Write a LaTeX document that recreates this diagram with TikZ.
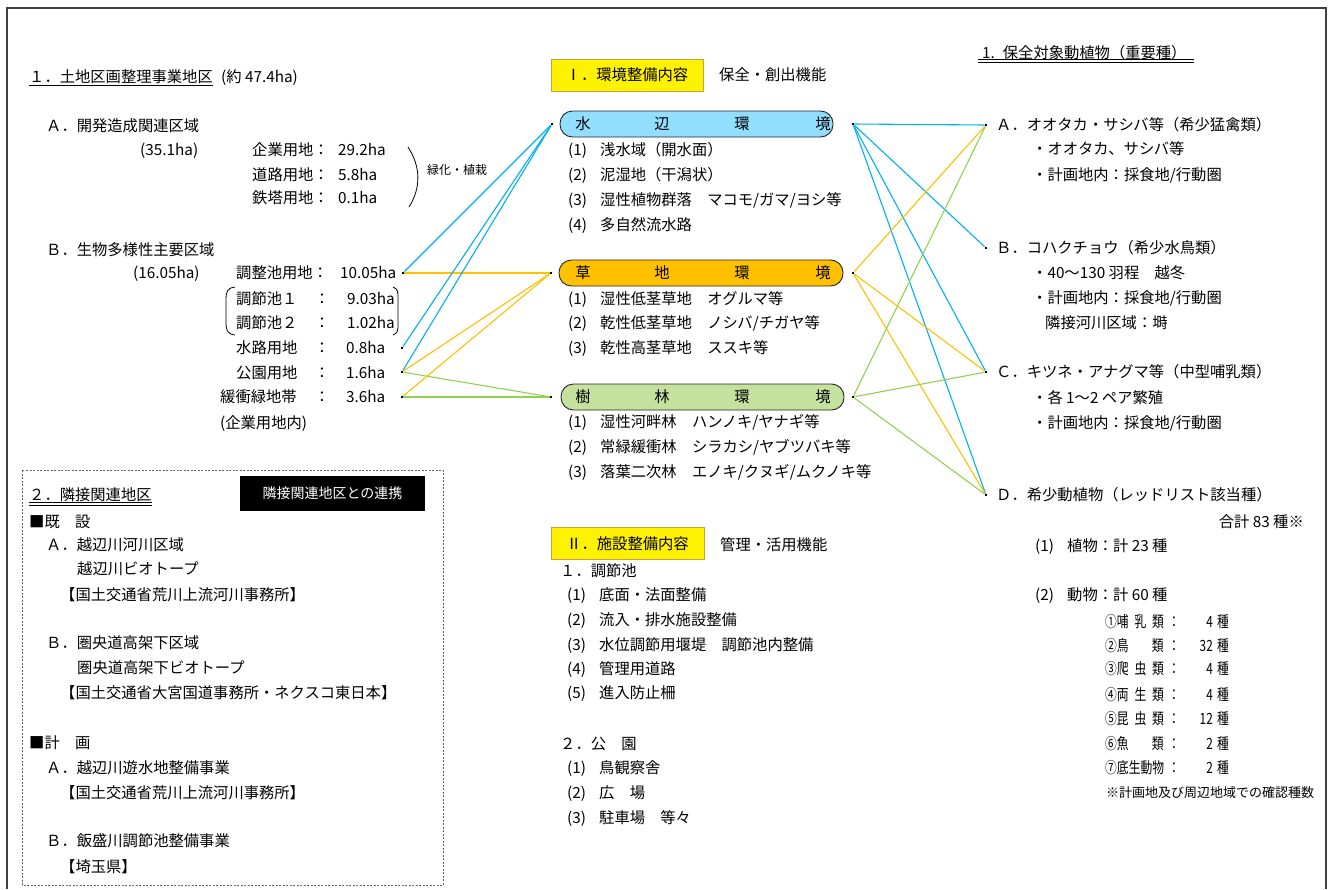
\documentclass[tikz,border=0pt]{standalone}
\usepackage{fontspec}
\setmainfont{Noto Sans CJK JP}
\newfontfamily\condfont[FakeStretch=0.76]{Noto Sans CJK JP}
\newcommand\myfs{\fontsize{15.3}{18}\selectfont}
\newcommand\mysm{\fontsize{12}{14}\selectfont}
\newcommand\mymid{\fontsize{14}{16}\selectfont}
\newcommand\mycond{\condfont\fontsize{15.5}{18}\selectfont}
\newcommand\np[1]{\makebox[32pt][l]{#1}}
\definecolor{cblue}{RGB}{0,176,240}
\definecolor{corange}{RGB}{255,192,0}
\definecolor{cgreen}{RGB}{146,208,80}
\definecolor{wfill}{RGB}{146,222,255}
\definecolor{gfill}{RGB}{255,192,0}
\definecolor{ffill}{RGB}{196,226,158}
\definecolor{ybord}{RGB}{200,160,60}
\begin{document}
\begin{tikzpicture}[x=1pt,y=-1pt,
  tx/.style={anchor=west,inner sep=0pt,text height=12.5pt,text depth=1.5pt,font=\myfs},
  txc/.style={anchor=center,inner sep=0pt,text height=12.5pt,text depth=1.5pt,font=\myfs},
  sm/.style={anchor=west,inner sep=0pt,font=\mysm},
  cd/.style={anchor=west,inner sep=0pt,text height=12.5pt,text depth=1.5pt,font=\mycond},
  dotn/.style={rectangle,fill=black,inner sep=0pt,minimum size=2.4pt},
  blu/.style={draw=cblue,line width=1.1pt},
  org/.style={draw=corange,line width=1.1pt},
  grn/.style={draw=cgreen,line width=1.1pt},
  ybox/.style={draw=ybord,fill=yellow,line width=0.9pt,minimum width=152pt,minimum height=32pt,inner sep=0pt,font=\myfs,text height=12.5pt,text depth=1.5pt},
  envbox/.style={draw=black!85,line width=0.9pt,rounded corners=12.5pt,minimum height=26pt,inner sep=0pt},
  ch/.style={anchor=center,inner sep=0pt,font=\myfs,text height=12.5pt,text depth=1.5pt}
]
\useasboundingbox (0,0) rectangle (1332,889);
% outer frame
\draw[line width=1.8pt,black!75] (7,889) -- (7,8) -- (1326,8) -- (1326,889);

% ===== Left column =====
\node[tx] (h1) at (29,77) {１．土地区画整理事業地区};
\node[tx] (h1b) at (221,77) {(約 47.4ha)};
\draw[line width=1.3pt] ([yshift=-1.5pt]h1.south west) -- ([yshift=-1.5pt]h1.south east);

\node[tx] (a1) at (46,126) {Ａ．開発造成関連区域};
\node[tx] (a1h) at (140,150) {(35.1ha)};
\node[tx] (k1) at (252,150) {企業用地：};
\node[tx] (k1v) at (338,150) {29.2ha};
\node[tx] (k2) at (252,175) {道路用地：};
\node[tx] (k2v) at (338,175) {5.8ha};
\node[tx] (k3) at (252,198) {鉄塔用地：};
\node[tx] (k3v) at (338,198) {0.1ha};
\draw[line width=0.8pt] (408,147) .. controls (421,167) and (421,188) .. (409,207);
\node[sm] (ryoku) at (427,170) {緑化・植栽};

\node[tx] (b1) at (46,250) {Ｂ．生物多様性主要区域};
\node[tx] (b1h) at (133,273) {(16.05ha)};
\node[tx] (c1) at (236,273) {調整池用地：};
\node[tx] (c1v) at (340,273) {10.05ha};
\node[tx] (c2) at (236,299) {調節池１};
\node[txc] (c2c) at (322,299) {：};
\node[tx] (c2v) at (347,299) {9.03ha};
\node[tx] (c3) at (236,323) {調節池２};
\node[txc] (c3c) at (322,323) {：};
\node[tx] (c3v) at (347,323) {1.02ha};
\node[tx] (c4) at (236,348) {水路用地};
\node[txc] (c4c) at (322,348) {：};
\node[tx] (c4v) at (346,348) {0.8ha};
\node[tx] (c5) at (236,373) {公園用地};
\node[txc] (c5c) at (322,373) {：};
\node[tx] (c5v) at (346,373) {1.6ha};
\node[tx] (c6) at (220,397) {緩衝緑地帯};
\node[txc] (c6c) at (322,397) {：};
\node[tx] (c6v) at (346,397) {3.6ha};
\node[tx] (c7) at (220,423) {(企業用地内)};
\draw[line width=0.8pt] (235,287) .. controls (227,288) and (226,292) .. (226,300) -- (226,322) .. controls (226,330) and (227,334) .. (235,335);
\draw[line width=0.8pt] (393,287) .. controls (398,289) and (398,292) .. (398,298) -- (398,324) .. controls (398,330) and (398,333) .. (393,335);

\node[dotn] (dA) at (403,273) {};
\node[dotn] (dB) at (402,348) {};
\node[dotn] (dC) at (402,372) {};
\node[dotn] (dD) at (402,397) {};

% dashed box
\draw[black!60,line width=0.8pt,dash pattern=on 2pt off 1.5pt] (22,470) rectangle (443,885);
\node[tx] (h2) at (29,495) {２．隣接関連地区};
\draw[line width=0.7pt] ([yshift=-0.5pt]h2.south west) -- ([yshift=-0.5pt]h2.south east);
\draw[line width=0.7pt] ([yshift=-3pt]h2.south west) -- ([yshift=-3pt]h2.south east);
\node[fill=black,text=white,minimum width=185pt,minimum height=35pt,inner sep=0pt,font=\mymid] (bb) at (332.5,493.5) {隣接関連地区との連携};
\node[tx] (e1) at (29,522) {■既　設};
\node[tx] (e2) at (46,545) {Ａ．越辺川河川区域};
\node[tx] (e3) at (77,569) {越辺川ビオトープ};
\node[tx] (e4) at (60,595) {【国土交通省荒川上流河川事務所】};
\node[tx] (e5) at (46,643) {Ｂ．圏央道高架下区域};
\node[tx] (e6) at (77,668) {圏央道高架下ビオトープ};
\node[tx] (e7) at (60,693) {【国土交通省大宮国道事務所・ネクスコ東日本】};
\node[tx] (e8) at (29,743) {■計　画};
\node[tx] (e9) at (46,768) {Ａ．越辺川遊水地整備事業};
\node[tx] (e10) at (60,793) {【国土交通省荒川上流河川事務所】};
\node[tx] (e11) at (46,841) {Ｂ．飯盛川調節池整備事業};
\node[tx] (e12) at (60,867) {【埼玉県】};

% ===== Middle column =====
\node[ybox] (y1) at (627,75) {Ⅰ．環境整備内容};
\node[tx] (y1t) at (719,75) {保全・創出機能};

\node[envbox,fill=wfill,minimum width=273pt] (wbox) at (696.5,124) {};
\node[ch] at (583,124) {水};
\node[ch] at (662,124) {辺};
\node[ch] at (742,124) {環};
\node[ch] at (823,124) {境};
\node[dotn] (wL) at (552,124) {};
\node[dotn] (wR) at (853,124) {};
\node[tx] (w1) at (568,150) {\np{(1)}浅水域（開水面）};
\node[tx] (w2) at (568,175) {\np{(2)}泥湿地（干潟状）};
\node[tx] (w3) at (568,200) {\np{(3)}湿性植物群落　マコモ/ガマ/ヨシ等};
\node[tx] (w4) at (568,225) {\np{(4)}多自然流水路};

\node[envbox,fill=gfill,minimum width=284pt] (gbox) at (701,273) {};
\node[ch] at (583,273) {草};
\node[ch] at (662,273) {地};
\node[ch] at (742,273) {環};
\node[ch] at (823,273) {境};
\node[dotn] (gL) at (551,273) {};
\node[dotn] (gR) at (853,273) {};
\node[tx] (g1) at (568,299) {\np{(1)}湿性低茎草地　オグルマ等};
\node[tx] (g2) at (568,323) {\np{(2)}乾性低茎草地　ノシバ/チガヤ等};
\node[tx] (g3) at (568,348) {\np{(3)}乾性高茎草地　ススキ等};

\node[envbox,fill=ffill,minimum width=283pt] (fbox) at (702.5,397) {};
\node[ch] at (583,397) {樹};
\node[ch] at (662,397) {林};
\node[ch] at (742,397) {環};
\node[ch] at (823,397) {境};
\node[dotn] (fL) at (551,397) {};
\node[dotn] (fR) at (853,397) {};
\node[tx] (f1) at (568,422) {\np{(1)}湿性河畔林　ハンノキ/ヤナギ等};
\node[tx] (f2) at (568,447) {\np{(2)}常緑緩衝林　シラカシ/ヤブツバキ等};
\node[tx] (f3) at (568,472) {\np{(3)}落葉二次林　エノキ/クヌギ/ムクノキ等};

\node[ybox,minimum width=153pt] (y2) at (627.5,543.5) {Ⅱ．施設整備内容};
\node[tx] (y2t) at (720,545) {管理・活用機能};
\node[tx] (s0) at (560,571) {１．調節池};
\node[tx] (s1) at (567,595) {\np{(1)}底面・法面整備};
\node[tx] (s2) at (567,620) {\np{(2)}流入・排水施設整備};
\node[tx] (s3) at (567,645) {\np{(3)}水位調節用堰堤　調節池内整備};
\node[tx] (s4) at (567,669) {\np{(4)}管理用道路};
\node[tx] (s5) at (567,693) {\np{(5)}進入防止柵};
\node[tx] (p0) at (560,744) {２．公　園};
\node[tx] (p1) at (567,768) {\np{(1)}鳥観察舎};
\node[tx] (p2) at (567,793) {\np{(2)}広　場};
\node[tx] (p3) at (567,818) {\np{(3)}駐車場　等々};

% ===== Right column =====
\node[tx] (h3) at (982,53) {1.\hspace{8pt}保全対象動植物（重要種）};
\draw[line width=0.7pt] (978,59.5) -- (1194,59.5);
\draw[line width=0.7pt] (978,62.5) -- (1194,62.5);

\node[dotn] (rA) at (986,125) {};
\node[tx] (ra) at (996,125) {Ａ．オオタカ・サシバ等（希少猛禽類）};
\node[tx] (ra1) at (1032,149) {・オオタカ、サシバ等};
\node[tx] (ra2) at (1032,175) {・計画地内：採食地/行動圏};
\node[dotn] (rB) at (986,248) {};
\node[tx] (rb) at (996,248) {Ｂ．コハクチョウ（希少水鳥類）};
\node[tx] (rb1) at (1032,273) {・40～130 羽程　越冬};
\node[tx] (rb2) at (1032,298) {・計画地内：採食地/行動圏};
\node[tx] (rb3) at (1045,323) {隣接河川区域：塒};
\node[dotn] (rC) at (986,372) {};
\node[tx] (rc) at (996,372) {Ｃ．キツネ・アナグマ等（中型哺乳類）};
\node[tx] (rc1) at (1032,398) {・各 1～2 ペア繁殖};
\node[tx] (rc2) at (1032,423) {・計画地内：採食地/行動圏};
\node[dotn] (rD) at (986,495) {};
\node[tx] (rd) at (996,495) {Ｄ．希少動植物（レッドリスト該当種）};
\node[tx,anchor=east] (rd0) at (1304,522) {合計 83 種※};
\node[tx] (rd1) at (1035,546) {\np{(1)}植物：計 23 種};
\node[tx] (rd2) at (1035,595) {\np{(2)}動物：計 60 種};

\node[cd] (m1) at (1105,622) {①哺\hspace{5.8pt}乳\hspace{5.8pt}類};
\node[cd] (m2) at (1105,646) {②鳥\hspace{23.2pt}類};
\node[cd] (m3) at (1105,669) {③爬\hspace{5.8pt}虫\hspace{5.8pt}類};
\node[cd] (m4) at (1105,695) {④両\hspace{5.8pt}生\hspace{5.8pt}類};
\node[cd] (m5) at (1105,719) {⑤昆\hspace{5.8pt}虫\hspace{5.8pt}類};
\node[cd] (m6) at (1105,744) {⑥魚\hspace{23.2pt}類};
\node[cd] (m7) at (1105,768) {⑦底生動物};
\foreach \yy/\nn/\k in {622/4/1,646/32/2,669/4/3,695/4/4,719/12/5,744/2/6,768/2/7}{
  \node[cd,anchor=center] (mc\k) at (1174,\yy) {：};
  \node[cd,anchor=east] (mn\k) at (1213,\yy) {\nn};
  \node[cd] (ms\k) at (1217,\yy) {種};
}
\node[anchor=west,inner sep=0pt,font=\fontsize{13}{15}\selectfont] (note) at (1106,793) {※計画地及び周辺地域での確認種数};

% ===== Connectors =====
\draw[blu] (dA) -- (wL);
\draw[org] (dA) -- (gL);
\draw[blu] (dB) -- (wL);
\draw[blu] (dC) -- (wL);
\draw[org] (dC) -- (gL);
\draw[grn] (dC) -- (fL);
\draw[org] (dD) -- (gL);
\draw[grn] (dD) -- (fL);

\draw[blu] (wR) -- (rA);
\draw[blu] (wR) -- (rB);
\draw[blu] (wR) -- (rC);
\draw[blu] (wR) -- (rD);
\draw[org] (gR) -- (rA);
\draw[org] (gR) -- (rC);
\draw[org] (gR) -- (rD);
\draw[grn] (fR) -- (rA);
\draw[grn] (fR) -- (rC);
\draw[grn] (fR) -- (rD);
\end{tikzpicture}
\end{document}
